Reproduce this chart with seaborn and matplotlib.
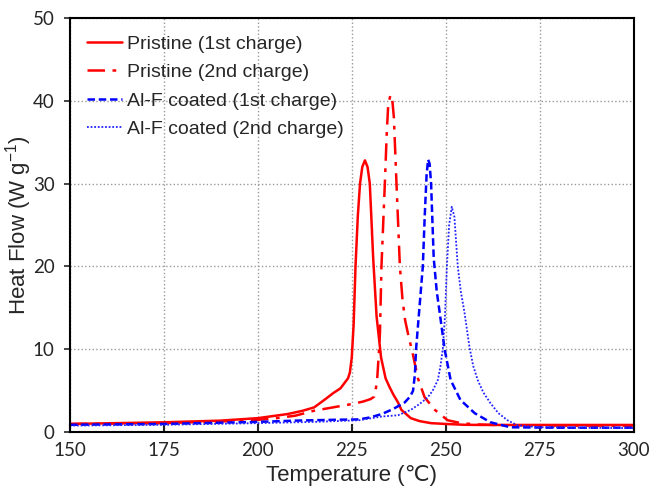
import numpy as np
import pandas as pd
import matplotlib
matplotlib.use('Agg')
import matplotlib.pyplot as plt
import seaborn as sns

# Values (temperature in degC, heat flow in W/g)
temp_pristine_1 = [150, 175, 190, 200, 208, 212, 215, 218, 220, 222, 224, 224.5, 225, 225.5, 226, 226.6,
                   227.2, 227.8, 228.5, 229.2, 229.8, 230.7, 231.6, 232.8, 234, 235, 236, 237.3, 238.2,
                   240.7, 243, 246, 250, 255, 260, 270, 280, 300]
hf_pristine_1 = [1.0, 1.2, 1.4, 1.7, 2.2, 2.6, 3.0, 4.0, 4.7, 5.3, 6.5, 7.2, 9.0, 13, 20, 26,
                 30, 32, 32.8, 32, 30, 21, 14, 9.0, 6.5, 5.5, 4.6, 3.6, 2.7,
                 1.7, 1.35, 1.1, 1.0, 0.9, 0.88, 0.88, 0.88, 0.88]

temp_pristine_2 = [150, 175, 190, 200, 205, 210, 215, 220, 225, 228, 230, 231, 231.7, 232.2, 232.5, 232.9,
                   233.8, 234.3, 234.7, 235.3, 235.8, 236.2, 236.9, 237.8, 238.5, 239.2, 240, 241.3, 242.6,
                   244.4, 247.1, 250.5, 254, 258, 265, 280, 300]
hf_pristine_2 = [1.0, 1.1, 1.3, 1.5, 1.7, 2.0, 2.6, 3.0, 3.4, 3.7, 4.0, 4.3, 6.0, 9.5, 12, 20,
                 30, 36, 39.5, 40.7, 40, 38, 30, 20, 16, 13.5, 11.8, 9.3, 6.5,
                 4.2, 2.7, 1.45, 1.1, 0.95, 0.85, 0.8, 0.8]

temp_alf_1 = [150, 175, 200, 210, 220, 227, 230, 233, 236, 239.1, 240.5, 241.3, 241.8, 242.1, 243, 243.9,
              244.4, 244.9, 245.3, 245.7, 246.1, 246.8, 247.6, 248.4, 249.7, 251.3, 253.9, 257.7, 261.9,
              267.2, 280, 300]
hf_alf_1 = [0.9, 1.0, 1.25, 1.4, 1.5, 1.55, 1.8, 2.2, 2.8, 3.6, 4.3, 5.0, 7.0, 10, 15, 20,
            26, 31, 32.9, 32.4, 30, 21, 17, 14.4, 10, 6.3, 3.9, 2.3, 1.2,
            0.6, 0.55, 0.55]

temp_alf_2 = [150, 175, 200, 215, 227, 233, 237.3, 240.7, 243, 245.2, 246.5, 247.9, 248.6, 249.2, 249.8,
              250.3, 250.9, 251.6, 252.3, 253.2, 254, 255, 256.3, 257.3, 258.5, 260, 261.9, 264, 266.4,
              269, 275, 285, 300]
hf_alf_2 = [0.8, 0.9, 1.1, 1.25, 1.45, 1.9, 2.05, 2.7, 3.4, 4.2, 5.0, 6.3, 8.0, 10, 14,
            20, 25, 27.2, 26, 20, 17, 14.4, 10.3, 8.0, 6.3, 4.8, 3.5, 2.3, 1.45,
            0.85, 0.6, 0.55, 0.5]

labels = ['Pristine (1st charge)', 'Pristine (2nd charge)',
          'Al-F coated (1st charge)', 'Al-F coated (2nd charge)']

sns.set_style('ticks')
plt.rcParams['font.family'] = ['Liberation Sans', 'DejaVu Sans']

fig, ax = plt.subplots(figsize=(6.52, 4.94), dpi=100)
fig.subplots_adjust(left=0.107, right=0.972, top=0.964, bottom=0.125)

series = [
    (temp_pristine_1, hf_pristine_1, '#ff0000', '-', 1.8),
    (temp_pristine_2, hf_pristine_2, '#ff0000', (0, (7, 3, 1.5, 3)), 1.8),
    (temp_alf_1, hf_alf_1, '#0000ff', (0, (3, 1.5)), 1.8),
    (temp_alf_2, hf_alf_2, '#2222ff', (0, (1, 1)), 1.3),
]
for (t, h, c, ls, lw), lab in zip(series, labels):
    sns.lineplot(x=t, y=h, ax=ax, color=c, linestyle=ls, linewidth=lw,
                 label=lab, estimator=None, sort=False)

ax.set_xlim(150, 300)
ax.set_ylim(0, 50)
ax.set_xticks(np.arange(150, 301, 25))
ax.set_yticks(np.arange(0, 51, 10))
ax.grid(True, color='#999999', linestyle=':', linewidth=1)

for s in ax.spines.values():
    s.set_linewidth(1.5)
    s.set_color('black')
ax.tick_params(axis='x', direction='in', length=6, width=1.5, pad=7)
ax.tick_params(axis='y', direction='out', length=4, width=1.2, pad=7)
for lbl in ax.get_xticklabels() + ax.get_yticklabels():
    lbl.set_fontfamily('Lato')
    lbl.set_fontsize(13.5)

ax.set_xlabel('Temperature (\u2103)', fontsize=16, labelpad=4)
ax.set_ylabel('Heat Flow (W g$^{\\mathregular{-1}}$)', fontsize=16)
ax.yaxis.set_label_coords(-0.064, 0.5)

ax.legend(loc='upper left', frameon=False, fontsize=14, handlelength=1.8,
          handletextpad=0.25, labelspacing=0.55, borderaxespad=0.5,
          bbox_to_anchor=(0.0, 1.0))

fig.savefig('out.png', dpi=100)
